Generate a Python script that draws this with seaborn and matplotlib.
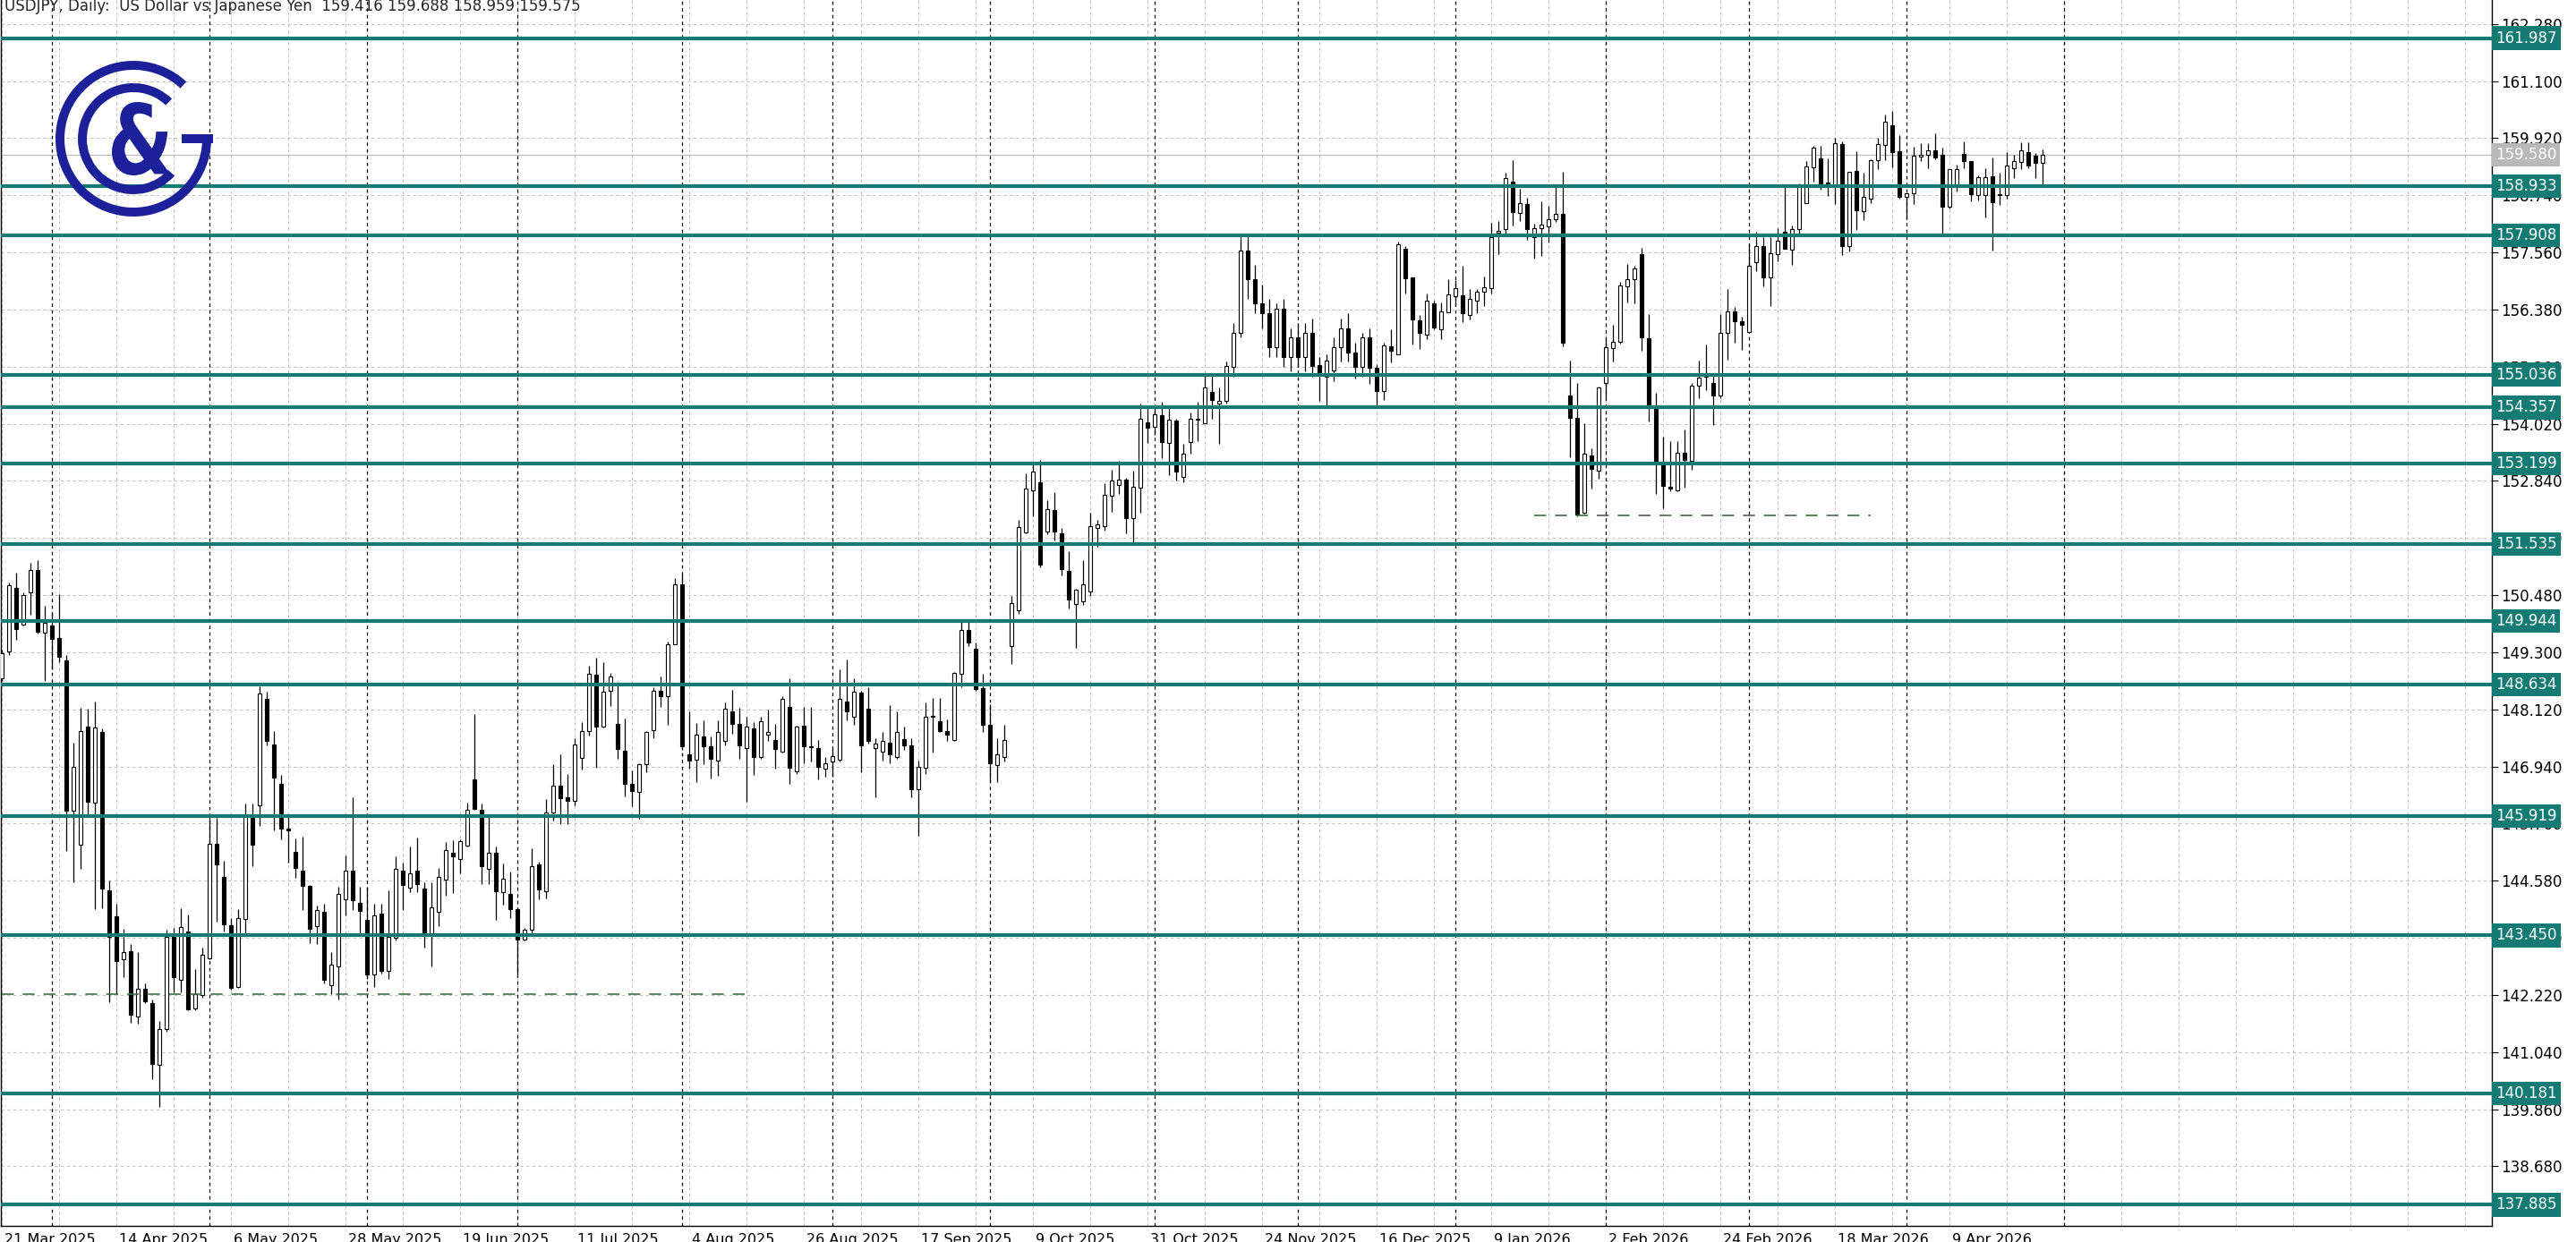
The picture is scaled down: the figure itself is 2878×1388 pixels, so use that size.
import numpy as np
import matplotlib
matplotlib.use("Agg")
import matplotlib.pyplot as plt
import seaborn as sns
from matplotlib.patches import Wedge, Rectangle, PathPatch
from matplotlib.textpath import TextPath
from matplotlib.font_manager import FontProperties
from matplotlib.transforms import Affine2D, ScaledTranslation, blended_transform_factory

# ---------------------------------------------------------------- data
open_ = [
    148.76, 149.31, 150.63, 149.88, 150.54, 151.00, 149.71, 149.86, 149.59, 149.14,
    146.02, 145.33, 147.77, 146.20, 147.65, 144.38, 143.85, 142.96, 143.13, 141.78,
    142.35, 142.06, 140.77, 141.52, 143.44, 142.54, 143.53, 141.95, 142.21, 142.97,
    145.34, 144.66, 143.66, 142.38, 143.79, 145.90, 146.14, 148.34, 147.40, 146.59,
    145.65, 145.18, 144.78, 144.47, 143.64, 143.94, 142.43, 142.81, 144.20, 144.79,
    144.13, 143.78, 142.64, 143.90, 142.72, 143.41, 144.79, 144.43, 144.79, 144.42,
    143.49, 143.93, 144.60, 145.16, 145.03, 145.31, 146.68, 146.05, 144.82, 145.16,
    144.35, 144.31, 143.99, 143.36, 143.56, 144.91, 144.36, 145.99, 146.54, 146.30,
    146.23, 147.11, 147.68, 148.83, 147.77, 148.50, 147.82, 147.27, 146.58, 146.41,
    146.98, 147.70, 148.50, 148.40, 149.47, 150.70, 147.20, 147.08, 147.57, 147.35,
    147.06, 147.46, 148.07, 147.82, 147.33, 147.73, 147.14, 147.59, 147.48, 147.24,
    148.17, 146.84, 147.78, 147.35, 147.33, 146.90, 147.04, 147.09, 148.28, 147.96,
    148.46, 148.13, 147.32, 147.24, 147.43, 147.13, 147.50, 147.38, 146.47, 146.92,
    147.98, 147.87, 147.68, 147.48, 148.85, 149.77, 149.37, 148.56, 147.80, 146.97,
    147.14, 149.43, 150.16, 151.78, 152.65, 152.81, 151.80, 152.23, 151.75, 150.98,
    150.29, 150.36, 150.56, 151.87, 151.91, 152.53, 152.75, 152.87, 152.08, 152.70,
    154.05, 153.95, 154.19, 153.62, 154.08, 152.93, 153.65, 154.13, 154.04, 154.67,
    154.44, 154.50, 155.20, 155.90, 157.60, 157.00, 156.50, 156.30, 155.60, 156.40,
    155.40, 155.80, 155.40, 155.90, 155.24, 154.99, 155.12, 155.60, 156.00, 155.50,
    155.20, 155.80, 155.18, 154.69, 155.63, 155.45, 157.63, 157.04, 156.16, 155.86,
    156.50, 155.98, 156.32, 156.66, 156.68, 156.26, 156.56, 156.74, 156.82, 157.97,
    158.04, 159.03, 158.38, 158.56, 157.87, 158.07, 158.10, 158.24, 158.35, 154.60,
    154.14, 152.18, 153.37, 153.05, 154.86, 155.59, 155.72, 156.86, 157.01, 157.52,
    155.78, 154.33, 153.24, 152.72, 152.64, 153.43, 153.26, 154.81, 154.99, 154.86,
    154.60, 155.89, 156.35, 156.14, 155.92, 157.35, 157.70, 157.04, 157.52, 157.99,
    157.62, 158.05, 158.58, 159.32, 159.50, 159.00, 158.96, 159.80, 157.70, 159.24,
    158.42, 158.67, 159.46, 159.78, 160.19, 159.66, 158.71, 158.78, 159.54, 159.58,
    159.67, 159.57, 158.50, 158.95, 159.59, 159.44, 158.75, 158.75, 159.14, 158.74,
    158.75, 159.30, 159.42, 159.64, 159.55, 159.416,
]
high = [
    149.35, 150.75, 150.95, 150.54, 151.15, 151.21, 150.26, 150.14, 150.50, 149.25,
    147.43, 148.15, 148.14, 148.28, 147.72, 144.59, 144.10, 143.59, 143.28, 143.10,
    142.46, 142.12, 141.68, 143.57, 143.60, 144.02, 143.88, 142.76, 143.19, 145.90,
    145.88, 145.00, 143.80, 144.00, 146.18, 146.17, 148.60, 148.48, 147.68, 146.76,
    145.93, 145.45, 145.50, 144.50, 144.07, 144.10, 143.10, 144.46, 145.10, 146.30,
    144.45, 144.45, 144.11, 144.11, 144.39, 145.08, 144.95, 145.28, 145.48, 144.55,
    144.54, 144.85, 145.38, 145.42, 145.44, 146.20, 148.03, 146.17, 145.93, 145.28,
    144.94, 144.77, 144.00, 143.60, 145.25, 144.97, 146.27, 146.98, 147.19, 146.79,
    147.53, 147.85, 149.03, 149.19, 149.09, 148.88, 148.61, 147.94, 146.86, 147.01,
    147.68, 148.57, 148.80, 149.53, 150.84, 150.91, 148.08, 147.84, 147.89, 147.56,
    147.90, 148.26, 148.52, 148.15, 147.97, 147.85, 147.97, 148.11, 147.82, 148.40,
    148.77, 147.78, 148.18, 148.18, 147.48, 147.13, 147.31, 148.94, 149.15, 148.77,
    148.50, 148.57, 147.53, 147.65, 148.20, 148.08, 147.77, 147.53, 147.07, 148.27,
    148.36, 148.36, 147.91, 148.89, 149.92, 149.92, 149.50, 148.85, 148.22, 147.52,
    147.80, 150.47, 152.04, 152.99, 153.21, 153.27, 152.44, 152.61, 151.87, 151.38,
    150.62, 151.21, 152.18, 152.03, 152.80, 153.07, 153.25, 152.90, 153.05, 154.44,
    154.41, 154.41, 154.48, 154.35, 154.13, 153.60, 154.25, 154.48, 155.05, 155.05,
    154.78, 155.30, 156.10, 157.90, 157.90, 157.30, 156.90, 156.60, 156.50, 156.60,
    156.00, 156.10, 156.10, 156.20, 155.40, 155.45, 155.80, 156.20, 156.30, 155.70,
    155.90, 156.00, 155.25, 155.70, 155.98, 157.78, 157.70, 157.04, 156.27, 156.72,
    156.56, 156.53, 157.00, 156.98, 157.29, 156.80, 156.80, 157.07, 158.18, 158.20,
    159.21, 159.46, 158.87, 158.69, 158.16, 158.61, 158.52, 158.91, 159.23, 155.33,
    154.87, 154.04, 153.52, 154.79, 155.76, 156.07, 156.95, 157.33, 157.29, 157.66,
    156.29, 154.66, 153.75, 153.66, 153.66, 153.91, 154.87, 155.33, 155.65, 155.04,
    156.29, 156.81, 156.43, 156.23, 157.73, 157.98, 157.87, 157.87, 158.07, 158.91,
    158.11, 158.98, 159.44, 159.76, 159.76, 159.50, 159.92, 159.85, 159.23, 159.66,
    159.20, 159.49, 159.92, 160.41, 160.49, 159.98, 158.78, 159.75, 159.81, 159.82,
    160.02, 159.73, 159.28, 159.38, 159.85, 159.44, 159.15, 159.30, 159.53, 159.20,
    159.64, 159.57, 159.84, 159.84, 159.61, 159.688,
]
low = [
    148.70, 149.25, 149.55, 149.86, 150.08, 149.68, 148.71, 148.94, 149.09, 145.20,
    144.55, 144.83, 145.90, 144.00, 144.02, 142.07, 142.24, 142.59, 141.64, 141.63,
    142.05, 140.49, 139.90, 141.47, 142.28, 142.28, 141.90, 141.90, 142.17, 142.95,
    143.74, 143.53, 142.33, 142.36, 143.47, 144.88, 145.71, 147.37, 145.62, 145.43,
    144.95, 144.65, 143.97, 143.29, 143.27, 142.46, 142.24, 142.13, 143.86, 143.97,
    143.47, 142.55, 142.38, 142.67, 142.55, 143.35, 143.97, 144.34, 144.34, 143.19,
    142.81, 143.65, 144.27, 144.33, 144.73, 145.28, 146.05, 144.51, 144.51, 143.77,
    144.08, 143.80, 142.64, 143.34, 143.50, 144.20, 144.22, 145.83, 145.75, 145.75,
    146.14, 146.88, 147.58, 146.92, 147.74, 148.19, 147.10, 146.32, 146.12, 145.87,
    146.83, 147.53, 148.17, 147.80, 149.46, 147.29, 146.89, 146.62, 146.99, 146.70,
    146.75, 147.38, 147.62, 147.10, 146.21, 146.76, 147.10, 147.46, 146.89, 147.22,
    146.58, 146.79, 147.01, 147.04, 146.68, 146.73, 146.73, 147.04, 147.90, 147.81,
    146.82, 147.41, 146.30, 147.07, 147.01, 147.10, 147.29, 146.30, 145.51, 146.78,
    147.22, 147.65, 147.47, 147.47, 148.57, 149.42, 148.51, 147.66, 146.61, 146.61,
    147.04, 149.05, 150.10, 151.76, 152.10, 151.05, 151.73, 151.61, 150.89, 150.21,
    149.39, 150.27, 150.47, 151.48, 151.82, 152.20, 152.57, 151.76, 151.56, 152.18,
    153.62, 153.79, 153.31, 152.96, 152.84, 152.82, 153.41, 153.66, 154.04, 154.13,
    153.61, 154.44, 155.00, 155.80, 156.60, 156.30, 156.00, 155.40, 155.40, 155.20,
    155.10, 155.20, 155.10, 155.00, 154.50, 154.38, 154.90, 155.30, 155.30, 154.96,
    155.00, 154.84, 154.41, 154.52, 155.29, 155.45, 156.72, 155.65, 155.57, 155.77,
    155.98, 155.77, 156.32, 156.47, 156.12, 156.18, 156.31, 156.45, 156.72, 157.52,
    157.95, 158.11, 158.20, 157.83, 157.44, 157.48, 157.76, 158.19, 155.63, 153.32,
    152.11, 152.17, 152.69, 152.88, 154.57, 155.30, 155.67, 156.52, 156.50, 155.53,
    154.06, 152.57, 152.27, 152.62, 152.63, 152.70, 153.07, 154.55, 154.72, 153.99,
    154.54, 155.35, 155.70, 155.55, 155.89, 157.17, 156.86, 156.45, 157.38, 157.64,
    157.30, 157.92, 158.57, 159.03, 158.85, 158.73, 158.56, 157.50, 157.58, 158.03,
    158.23, 158.58, 159.28, 159.46, 159.32, 158.67, 158.24, 158.56, 159.45, 159.30,
    159.49, 157.93, 158.47, 158.81, 159.30, 158.61, 158.64, 158.28, 157.59, 158.55,
    158.67, 159.10, 159.28, 159.30, 159.10, 158.959,
]
close = [
    149.28, 150.69, 149.78, 150.49, 151.00, 149.72, 149.91, 149.57, 149.20, 146.03,
    146.94, 147.68, 146.22, 147.74, 144.41, 143.42, 142.93, 143.11, 141.81, 142.35,
    142.09, 140.80, 141.52, 143.43, 142.59, 143.62, 141.93, 142.24, 143.05, 145.34,
    144.92, 143.68, 142.36, 143.81, 145.91, 145.33, 148.45, 147.46, 146.71, 145.65,
    145.62, 144.84, 144.47, 143.58, 143.97, 142.53, 142.84, 144.30, 144.79, 144.17,
    143.96, 142.64, 143.87, 142.71, 143.42, 144.82, 144.50, 144.73, 144.51, 143.47,
    144.03, 144.66, 145.21, 145.08, 145.40, 146.05, 146.07, 144.88, 145.16, 144.36,
    144.62, 143.99, 143.37, 143.57, 144.89, 144.40, 145.99, 146.54, 146.29, 146.23,
    147.40, 147.68, 148.85, 147.77, 148.48, 148.80, 147.30, 146.58, 146.43, 146.98,
    147.65, 148.50, 148.40, 149.46, 150.70, 147.36, 147.07, 147.60, 147.35, 147.10,
    147.66, 148.14, 147.82, 147.38, 147.76, 147.14, 147.87, 147.65, 147.30, 148.33,
    146.92, 147.76, 147.35, 147.34, 146.93, 147.00, 147.16, 148.34, 148.07, 148.48,
    147.38, 147.47, 147.41, 147.46, 147.20, 147.65, 147.38, 146.47, 146.93, 147.97,
    147.96, 147.68, 147.59, 148.88, 149.77, 149.50, 148.54, 147.80, 147.01, 147.19,
    147.48, 150.32, 151.88, 152.68, 153.03, 151.11, 152.25, 151.80, 151.02, 150.39,
    150.59, 150.71, 151.91, 151.95, 152.55, 152.84, 152.86, 152.07, 152.71, 154.12,
    153.93, 154.21, 153.65, 154.10, 153.04, 153.41, 154.13, 154.11, 154.77, 154.51,
    154.50, 155.21, 155.90, 157.60, 157.00, 156.50, 156.30, 155.60, 156.40, 155.40,
    155.80, 155.40, 155.90, 155.21, 155.05, 155.33, 155.60, 156.00, 155.50, 155.20,
    155.80, 155.18, 154.70, 155.64, 155.52, 157.72, 157.03, 156.18, 155.89, 156.56,
    156.01, 156.35, 156.70, 156.82, 156.31, 156.61, 156.74, 156.84, 157.87, 158.00,
    159.10, 158.40, 158.58, 158.04, 158.06, 158.13, 158.24, 158.36, 155.69, 154.14,
    152.14, 153.40, 153.09, 154.77, 155.61, 155.72, 156.87, 157.01, 157.23, 155.81,
    154.38, 153.24, 152.74, 152.68, 153.43, 153.27, 154.81, 154.98, 155.04, 154.60,
    155.89, 156.35, 156.14, 156.06, 157.29, 157.70, 157.04, 157.54, 157.80, 157.64,
    158.04, 158.95, 159.33, 159.73, 158.99, 158.98, 159.82, 157.69, 159.23, 158.43,
    158.70, 159.46, 159.79, 160.27, 159.64, 158.71, 158.78, 159.55, 159.58, 159.67,
    159.53, 158.50, 159.28, 159.28, 159.44, 158.77, 159.12, 159.12, 158.59, 158.77,
    159.35, 159.44, 159.67, 159.35, 159.41, 159.575,
]

date_labels = ["21 Mar 2025", "14 Apr 2025", "6 May 2025", "28 May 2025", "19 Jun 2025",
               "11 Jul 2025", "4 Aug 2025", "26 Aug 2025", "17 Sep 2025", "9 Oct 2025",
               "31 Oct 2025", "24 Nov 2025", "16 Dec 2025", "9 Jan 2026", "2 Feb 2026",
               "24 Feb 2026", "18 Mar 2026", "9 Apr 2026"]
month_starts = [7, 29, 51, 72, 95, 116, 138, 161, 181, 203, 224, 244, 266, 288]

price_ticks = [162.280, 161.100, 159.920, 158.740, 157.560, 156.380, 155.200, 154.020,
               152.840, 151.660, 150.480, 149.300, 148.120, 146.940, 145.760, 144.580,
               143.400, 142.220, 141.040, 139.860, 138.680]
levels = [161.987, 158.933, 157.908, 155.036, 154.357, 153.199, 151.535, 149.944,
          148.634, 145.919, 143.450, 140.181, 137.885]
last_price = 159.580
dashed_levels = [(142.24, 0, 104), (152.13, 214, 261)]
title = "USDJPY, Daily:  US Dollar vs Japanese Yen  159.416 159.688 158.959 159.575"

assert len(open_) == len(high) == len(low) == len(close) == 286

TEAL = "#137b74"
NAVY = "#1c2199"

# ---------------------------------------------------------------- figure
sns.set_style("white")
plt.rcParams["font.family"] = ["DejaVu Sans"]

W, H = 2878, 1388
fig = plt.figure(figsize=(W / 100, H / 100), dpi=100)
ax = fig.add_axes([1 / W, 18 / H, 2783 / W, 1370 / H])

o = np.array(open_)
c = np.array(close)
x = np.arange(len(c))
up = c >= o
bottom = np.minimum(o, c)
height = np.maximum(np.abs(c - o), 0.018)

# grid
for p in price_ticks:
    ax.axhline(p, color="#c4c4c4", lw=0.8, ls=(0, (3, 3)), zorder=0.5)
for g in range(0, 350, 8):
    ax.axvline(g, color="#c4c4c4", lw=0.8, ls=(0, (3, 3)), zorder=0.5)
for m in month_starts:
    ax.axvline(m, color="black", lw=0.9, ls=(0, (3, 3)), zorder=0.6)

# candles
ax.vlines(x, low, high, color="black", lw=0.9, zorder=3)
ax.bar(x[up], height[up], bottom=bottom[up], width=0.55, color="white",
       edgecolor="black", linewidth=0.8, zorder=4)
ax.bar(x[~up], height[~up], bottom=bottom[~up], width=0.55, color="black",
       edgecolor="black", linewidth=0.8, zorder=4)

# levels
ax.axhline(last_price, color="#c0c0c0", lw=1.0, zorder=2)
for lv in levels:
    ax.axhline(lv, color=TEAL, lw=3.0, zorder=5)
for lv, x0, x1 in dashed_levels:
    ax.hlines(lv, x0, x1, color="#3f6f46", lw=1.2, ls=(0, (8, 6)), zorder=5)

ax.set_xlim(-0.125, 347.75)
ax.set_ylim(137.45, 162.775)

# axes styling
ax.spines["top"].set_visible(False)
for s in ["left", "right", "bottom"]:
    ax.spines[s].set_color("black")
    ax.spines[s].set_linewidth(1.0)

ax.yaxis.tick_right()
ax.set_yticks(price_ticks)
ax.set_yticklabels([f"{p:.3f}" for p in price_ticks])
ax.tick_params(axis="y", direction="out", length=5, width=0.8, pad=2,
               labelsize=12, colors="black")
ax.set_xticks(np.arange(len(date_labels)) * 16)
ax.set_xticklabels(date_labels, ha="left")
ax.tick_params(axis="x", direction="out", length=5, width=0.8, pad=1,
               labelsize=11.5, colors="black")
for lab in ax.get_xticklabels():
    lab.set_transform(lab.get_transform() + ScaledTranslation(3 / 100, 0, fig.dpi_scale_trans))
ax.grid(False)

# right side price boxes
trans = blended_transform_factory(ax.transAxes, ax.transData)
for lv in levels:
    ax.text(1.0014, lv, f"{lv:.3f}", transform=trans, color="white", fontsize=12,
            va="center", ha="left", clip_on=False, zorder=10,
            bbox=dict(boxstyle="square,pad=0.25", fc=TEAL, ec="none"))
ax.text(1.0014, last_price, f"{last_price:.3f}", transform=trans, color="white",
        fontsize=12, va="center", ha="left", clip_on=False, zorder=9,
        bbox=dict(boxstyle="square,pad=0.25", fc="#b9b9b9", ec="none"))

ax.text(4 / 2783, 1 - 12 / 1370, title, transform=ax.transAxes, fontsize=12,
        va="baseline", ha="left", zorder=10)

# logo
lax = fig.add_axes([(149 - 100) / W, (H - 155 - 100) / H, 200 / W, 200 / H])
lax.set_xlim(-100, 100)
lax.set_ylim(-100, 100)
lax.axis("off")
lax.add_patch(Wedge((0, 0), 87, 47, 363, width=10, fc=NAVY, ec="none"))
lax.add_patch(Wedge((0, 0), 62, 46, 318, width=10, fc=NAVY, ec="none"))
lax.add_patch(Rectangle((54, -5), 35, 10, fc=NAVY, ec="none"))
amp = TextPath((0, 0), "&", size=100, prop=FontProperties(family="DejaVu Sans", weight="bold"))
ext = amp.get_extents()
sx = 65 / ext.width
sy = 82 / ext.height
amp_t = Affine2D().translate(-ext.x0, -ext.y0).scale(sx, sy).translate(-24, -41)
lax.add_patch(PathPatch(amp_t.transform_path(amp), fc=NAVY, ec="none"))

fig.savefig("out.png", dpi=100)
